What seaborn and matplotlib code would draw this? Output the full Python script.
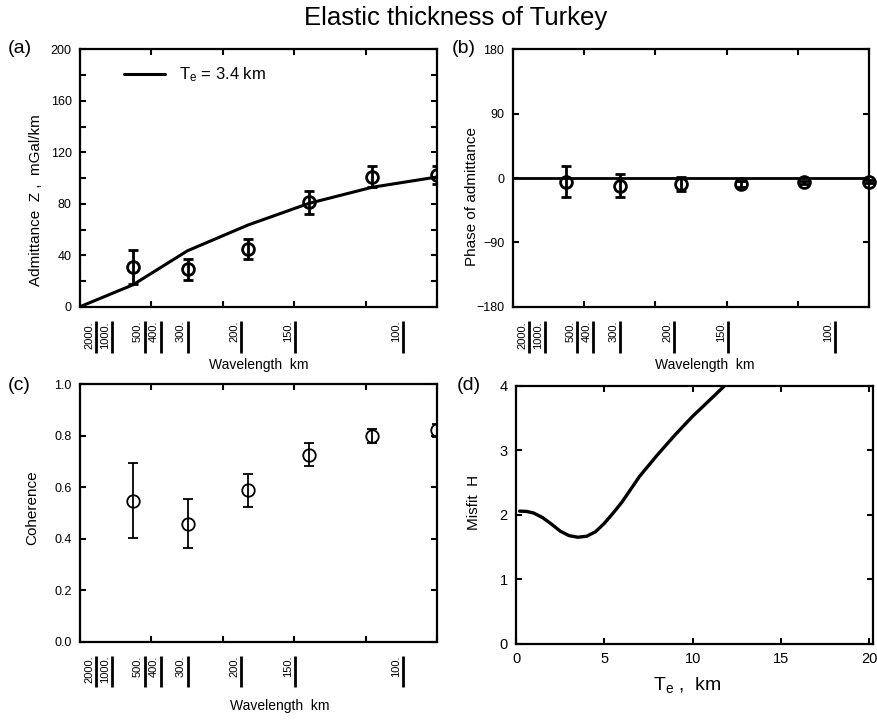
import numpy as np
import matplotlib
matplotlib.use("Agg")
import matplotlib.pyplot as plt
import matplotlib.transforms as mtransforms
from matplotlib.ticker import FormatStrFormatter, MultipleLocator
import seaborn as sns

# ---- spectral estimates per wavenumber band (wavelength in km) ----
band_wavelength = [610.0, 300.0, 192.0, 141.0, 110.5, 90.4]

admittance = [31, 29, 45, 81, 101, 102]          # mGal/km
admittance_err = [13, 8, 8, 9, 8, 7]

# predicted admittance for Te = 3.4 km (first node at zero wavenumber)
model_wavelength = [np.inf, 610.0, 300.0, 192.0, 141.0, 110.5, 90.4]
model_admittance = [0, 17, 43.5, 63.5, 80.3, 92.8, 100.8]

phase = [-5, -11, -8, -8, -6, -5]                 # degrees
phase_err = [22, 16, 10, 4, 2, 2]

coherence = [0.548, 0.458, 0.588, 0.727, 0.799, 0.821]
coherence_err = [0.145, 0.095, 0.064, 0.043, 0.026, 0.024]

# misfit as a function of elastic thickness
te_km = [0.2, 0.6, 1.0, 1.5, 2.0, 2.5, 3.0, 3.5, 4.0, 4.5, 5.0, 5.5, 6.0,
         7.0, 8.0, 9.0, 10.0, 11.0, 11.8]
misfit = [2.06, 2.055, 2.03, 1.96, 1.86, 1.75, 1.68, 1.655, 1.67, 1.74,
          1.87, 2.03, 2.2, 2.6, 2.93, 3.24, 3.53, 3.79, 4.0]

# wavelength annotations under the wavenumber axes
wavelength_ticks = [2000, 1000, 500, 400, 300, 200, 150, 100]

K_MAX = 1.0 / 90.4

sns.set_style("ticks")
plt.rcParams["font.family"] = ["Liberation Sans", "DejaVu Sans"]
plt.rcParams["mathtext.fontset"] = "custom"
plt.rcParams["mathtext.rm"] = "Liberation Sans"
plt.rcParams["axes.linewidth"] = 1.6
plt.rcParams["axes.edgecolor"] = "black"
plt.rcParams["text.color"] = "black"
plt.rcParams["axes.labelcolor"] = "black"
plt.rcParams["xtick.color"] = "black"
plt.rcParams["ytick.color"] = "black"

fig = plt.figure(figsize=(8.77, 7.2), dpi=100)

ax_a = fig.add_axes([0.0912, 0.574, 0.4071, 0.3575])
ax_b = fig.add_axes([0.5846, 0.574, 0.4066, 0.3575])
ax_c = fig.add_axes([0.0912, 0.1088, 0.4071, 0.3575])
ax_d = fig.add_axes([0.5884, 0.1056, 0.4067, 0.3583])

k_band = 1.0 / np.array(band_wavelength)
k_model = 1.0 / np.array(model_wavelength)


def style_ticks(ax, labelsize=9):
    ax.tick_params(which="both", direction="in", top=True, right=True,
                   width=1.5, colors="black", labelsize=labelsize, pad=6)
    ax.tick_params(which="major", length=4.5)
    ax.tick_params(which="minor", length=4.5)


def wavenumber_axis(ax, label_x, label_y):
    ax.set_xlim(0, K_MAX)
    ax.set_xticks(np.linspace(0, K_MAX, 6))
    ax.set_xticklabels([])
    trans = mtransforms.blended_transform_factory(ax.transData, ax.transAxes)
    txt_trans = mtransforms.offset_copy(trans, fig=fig, x=-1.2, y=0, units="points")
    for lam in wavelength_ticks:
        k = 1.0 / lam
        ax.plot([k, k], [-0.057, -0.178], transform=trans, color="black",
                lw=2.0, clip_on=False, solid_capstyle="butt")
        ax.text(k, -0.055, f"{lam}.", transform=txt_trans, rotation=90,
                ha="right", va="top", fontsize=8)
    ax.set_xlabel("Wavelength  km", fontsize=10)
    ax.xaxis.set_label_coords(label_x, label_y)


# ---- (a) admittance ----
sns.lineplot(x=k_model, y=model_admittance, ax=ax_a, color="black", lw=2.2,
             label=r"$\mathregular{T_e}$ = 3.4 km", sort=False)
ax_a.errorbar(k_band, admittance, yerr=admittance_err, fmt="o", ms=8.5,
              mfc="none", mec="black", mew=2.0, ecolor="black", elinewidth=2.0,
              capsize=3.5, capthick=2.0)
ax_a.set_ylim(0, 200)
ax_a.yaxis.set_major_locator(MultipleLocator(40))
ax_a.yaxis.set_minor_locator(MultipleLocator(20))
ax_a.set_ylabel("Admittance  Z ,  mGal/km", fontsize=11)
ax_a.yaxis.set_label_coords(-0.104, 0.4145)
wavenumber_axis(ax_a, 0.5, -0.2)
leg = ax_a.legend(loc="upper left", frameon=False, fontsize=12,
                  handlelength=2.5, bbox_to_anchor=(0.08, 0.995))
style_ticks(ax_a)

# ---- (b) phase ----
ax_b.axhline(0, color="black", lw=2.0)
ax_b.errorbar(k_band, phase, yerr=phase_err, fmt="o", ms=8.5,
              mfc="none", mec="black", mew=2.0, ecolor="black", elinewidth=2.0,
              capsize=3.5, capthick=2.0, clip_on=False)
ax_b.set_ylim(-180, 180)
ax_b.set_yticks([-180, -90, 0, 90, 180])
ax_b.set_ylabel("Phase of admittance", fontsize=11)
ax_b.yaxis.set_label_coords(-0.094, 0.43)
wavenumber_axis(ax_b, 0.539, -0.2)
style_ticks(ax_b)

# ---- (c) coherence ----
ax_c.errorbar(k_band, coherence, yerr=coherence_err, fmt="o", ms=9,
              mfc="none", mec="black", mew=1.3, ecolor="black", elinewidth=1.3,
              capsize=3.5, capthick=1.3)
ax_c.set_ylim(0, 1.0)
ax_c.yaxis.set_major_locator(MultipleLocator(0.2))
ax_c.yaxis.set_major_formatter(FormatStrFormatter("%.1f"))
ax_c.set_ylabel("Coherence", fontsize=11)
ax_c.yaxis.set_label_coords(-0.115, 0.519)
wavenumber_axis(ax_c, 0.56, -0.223)
style_ticks(ax_c)

# ---- (d) misfit ----
sns.lineplot(x=te_km, y=misfit, ax=ax_d, color="black", lw=2.4, sort=False)
ax_d.set_xlim(0, 20.2)
ax_d.set_ylim(0, 4)
ax_d.set_xticks([0, 5, 10, 15, 20])
ax_d.set_yticks([0, 1, 2, 3, 4])
ax_d.set_xlabel(r"$\mathregular{T_e}$ ,  km", fontsize=14)
ax_d.xaxis.set_label_coords(0.48, -0.12)
ax_d.set_ylabel("Misfit  H", fontsize=11)
ax_d.yaxis.set_label_coords(-0.098, 0.547)
style_ticks(ax_d, labelsize=10.5)

# ---- panel letters and title ----
for letter, x, y in [("(a)", 8, 40), ("(b)", 452, 40), ("(c)", 8, 377), ("(d)", 457, 377)]:
    fig.text(x / 877, 1 - y / 720, letter, fontsize=14, ha="left", va="top")

fig.text(455.5 / 877, 1 - 6 / 720, "Elastic thickness of Turkey",
         fontsize=18.5, ha="center", va="top")

fig.savefig("out.png", dpi=100)
